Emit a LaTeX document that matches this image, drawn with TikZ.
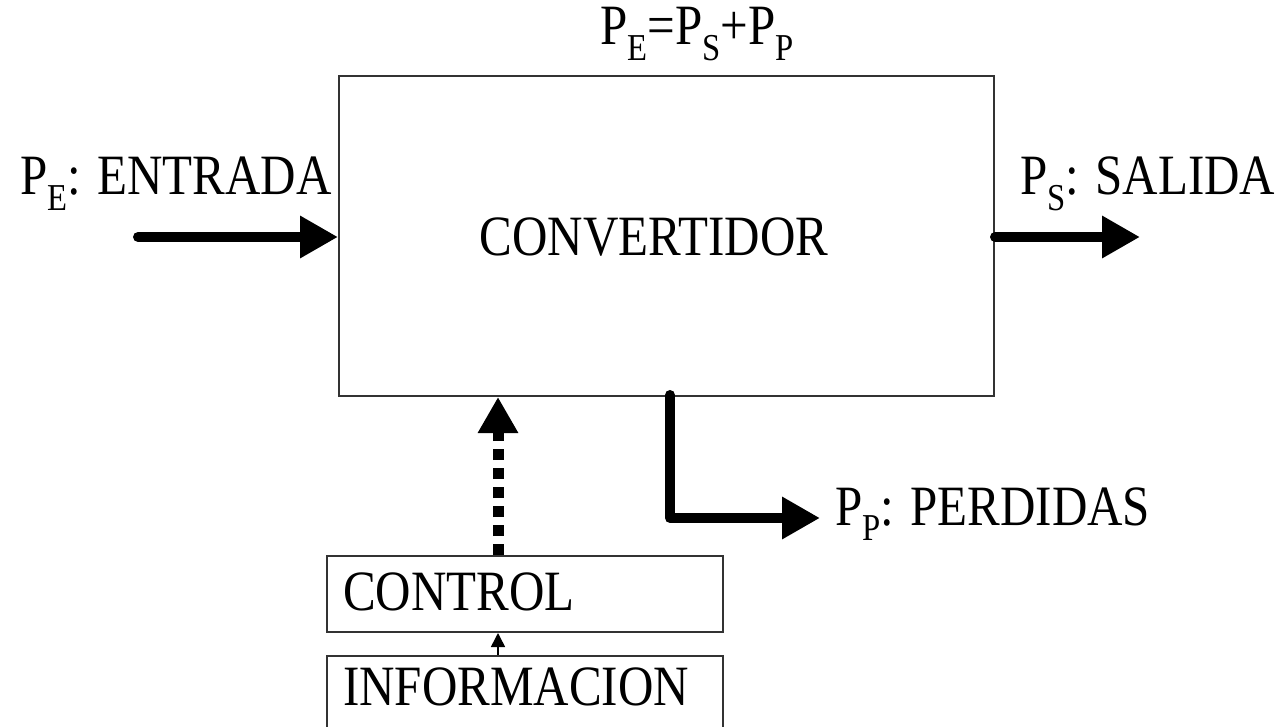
\documentclass[tikz,border=0pt]{standalone}
\usepackage{fontspec}
\setmainfont[FakeStretch=0.86]{Liberation Serif}
\usetikzlibrary{arrows.meta}
\newcommand{\lowr}[1]{\raisebox{-0.28em}{\fontsize{38}{40}\selectfont #1}}
\begin{document}
\begin{tikzpicture}[x=1pt,y=-1pt,
  txt/.style={font=\fontsize{57}{64}\selectfont, inner sep=0pt},
  boxline/.style={draw=black!80, line width=2pt},
  flow/.style={line width=10pt, line cap=round, -{Triangle[length=38pt,width=40pt]}},
  ctrl/.style={line width=11pt, dash pattern=on 11pt off 8pt, -{Triangle[length=36pt,width=38pt]}},
  thin/.style={line width=1.5pt, -{Triangle[length=14pt,width=14pt]}}]
\useasboundingbox (0,0) rectangle (1286,727);
% main box
\node[boxline, minimum width=655pt, minimum height=320pt, inner sep=0pt, anchor=north west] (conv) at (338,75) {};
\node[txt] (convt) at (654,237) {CONVERTIDOR};
% equation
\node[txt, anchor=base] (eq) at (697,45) {P\lowr{E}=P\lowr{S}+P\lowr{P}};
% input
\node[txt, anchor=base west] (entr) at (20,195) {P\lowr{E}: ENTRADA};
\coordinate (inS) at (138,237);
\draw[flow] (inS) -- (conv.west |- inS);
% output
\node[txt, anchor=base west] (sal) at (1020,195) {P\lowr{S}: SALIDA};
\coordinate (outE) at (1140,237);
\draw[flow] (conv.east |- outE) -- (outE);
% losses
\node[txt, anchor=base west] (perd) at (835,525) {P\lowr{P}: PERDIDAS};
\coordinate (lossS) at (670,395);
\coordinate (lossE) at (820,518);
\draw[line width=10pt, line cap=round, line join=round, -{Triangle[length=38pt,width=40pt]}] (lossS) |- (lossE);
% control
\node[boxline, minimum width=396pt, minimum height=76pt, inner sep=0pt, anchor=north west] (ctl) at (326,555) {};
\node[txt, anchor=base west] (ctlt) at (343,610) {CONTROL};
\node[boxline, minimum width=396pt, minimum height=110pt, inner sep=0pt, anchor=north west] (inf) at (326,655) {};
\node[txt, anchor=base west] (inft) at (343,705) {INFORMACION};
\draw[ctrl] (ctl.north -| 498,0) -- (conv.south -| 498,0);
\draw[thin] (inf.north -| 498,0) -- (ctl.south -| 498,0);
\end{tikzpicture}
\end{document}
